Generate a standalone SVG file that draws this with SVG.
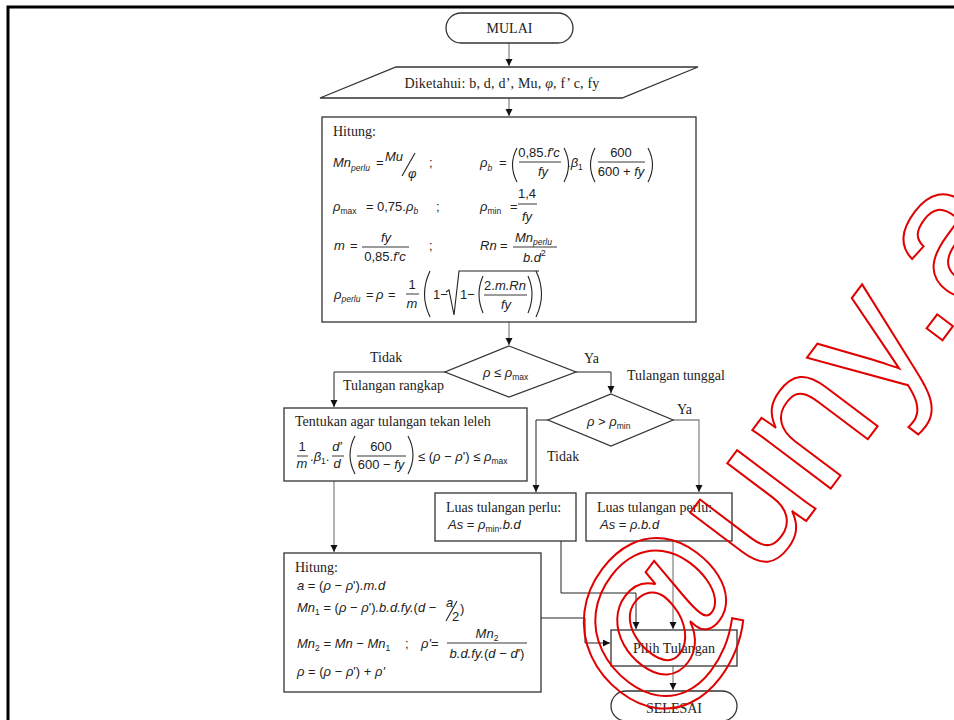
<svg xmlns="http://www.w3.org/2000/svg" width="954" height="720" viewBox="0 0 954 720">
<defs>
<style>
.t{font-family:"Liberation Serif","Times New Roman",serif;font-size:14px;fill:#222}
.m{font-family:"Liberation Sans",Arial,sans-serif;font-size:13px;font-style:italic;fill:#222}
.u{font-style:normal}
.s{font-size:8.5px}
.box{fill:#fff;stroke:#333;stroke-width:1.3}
.c{fill:none;stroke:#222;stroke-width:1}
.g{fill:none;stroke:#8a8a8a;stroke-width:1.3}
.p{fill:none;stroke:#222;stroke-width:1.1}
.bar{stroke:#222;stroke-width:0.9}
.wm{font-family:"Liberation Sans",Arial,sans-serif;font-size:185px;fill:none;stroke:#e00000;stroke-width:2}
</style>
<marker id="ah" markerUnits="userSpaceOnUse" markerWidth="8" markerHeight="8" refX="7" refY="3.5" orient="auto">
<path d="M0,0 L7,3.5 L0,7 z" fill="#111"/>
</marker>
</defs>
<rect width="954" height="720" fill="#fff"/>
<path d="M8,720 V7 H954" fill="none" stroke="#000" stroke-width="3"/>

<g id="connectors">
<path class="g" d="M509,43 V66" marker-end="url(#ah)"/>
<path class="g" d="M509,98 V116" marker-end="url(#ah)"/>
<path class="g" d="M509,322 V345" marker-end="url(#ah)"/>
<path class="c" d="M445,372 H334 V407" marker-end="url(#ah)"/>
<path class="c" d="M576,372 H611 V393" marker-end="url(#ah)"/>
<path class="g" d="M673,420 H699 V492" marker-end="url(#ah)"/>
<path class="c" d="M548,420 H536 V492" marker-end="url(#ah)"/>
<path class="g" d="M334,481 V552" marker-end="url(#ah)"/>
<path class="c" d="M541,618 H585 V643 H610" marker-end="url(#ah)"/>
<path class="c" d="M561,541 V593 H636 V629" marker-end="url(#ah)"/>
<path class="g" d="M673,541 V629" marker-end="url(#ah)"/>
<path class="g" d="M673,666 V690" marker-end="url(#ah)"/>
<text class="t" x="370" y="362">Tidak</text>
<text class="t" x="343" y="390">Tulangan rangkap</text>
<text class="t" x="584" y="363">Ya</text>
<text class="t" x="627" y="380">Tulangan tunggal</text>
<text class="t" x="677" y="414">Ya</text>
<text class="t" x="547" y="461">Tidak</text>
</g>

<g id="mulai">
<rect class="box" x="446" y="13" width="127" height="30" rx="15"/>
<text class="t" x="509.5" y="33" text-anchor="middle">MULAI</text>
</g>

<g id="diketahui">
<path class="box" d="M396,67 H698 L622,98 H320 Z"/>
<text class="t" x="502" y="88" text-anchor="middle" letter-spacing="0.2">Diketahui: b, d, d’, Mu, <tspan font-style="italic">φ</tspan>,  f’ c, fy</text>
</g>

<g id="hitung1">
<rect class="box" x="322" y="117" width="374" height="205"/>
<text class="t" x="333" y="136">Hitung:</text>
<text class="m" x="333" y="167">Mn<tspan class="s" dy="4">perlu</tspan></text>
<text class="m u" x="376" y="167">=</text>
<text class="m" x="385" y="161">Mu</text>
<path class="p" d="M402,176 L415,153" stroke-width="1.4"/>
<text class="m" x="408" y="178">φ</text>
<text class="m u" x="429" y="167">;</text>
<text class="m" x="480" y="167">ρ<tspan class="s" dy="4">b</tspan></text>
<text class="m u" x="499" y="167">=</text>
<path class="p" d="M517,148 Q508,165 517,182"/>
<text class="m" x="539" y="157" text-anchor="middle"><tspan class="u">0,85.</tspan>f'c</text>
<line class="bar" x1="519" y1="162" x2="561" y2="162"/>
<text class="m" x="543" y="176" text-anchor="middle">fy</text>
<path class="p" d="M564,148 Q573,165 564,182"/>
<text class="m" x="567" y="167"><tspan class="u">.</tspan>β<tspan class="s u" dy="3">1</tspan></text>
<path class="p" d="M595,148 Q586,165 595,182"/>
<text class="m u" x="621" y="157" text-anchor="middle">600</text>
<line class="bar" x1="598" y1="162" x2="645" y2="162"/>
<text class="m" x="621" y="176" text-anchor="middle"><tspan class="u">600 + </tspan>fy</text>
<path class="p" d="M648,148 Q657,165 648,182"/>
<text class="m" x="333" y="211">ρ<tspan class="s u" dy="3" font-size="9">max</tspan></text>
<text class="m u" x="366" y="211">=</text>
<text class="m u" x="377" y="211">0,75.<tspan font-style="italic">ρ</tspan><tspan class="s" font-style="italic" dy="3">b</tspan></text>
<text class="m u" x="436" y="211">;</text>
<text class="m" x="480" y="211">ρ<tspan class="s u" dy="3" font-size="9">min</tspan></text>
<text class="m u" x="510" y="211">=</text>
<text class="m u" x="527" y="198" text-anchor="middle">1,4</text>
<line class="bar" x1="518" y1="204" x2="537" y2="204"/>
<text class="m" x="527" y="221" text-anchor="middle">fy</text>
<text class="m" x="334" y="250">m</text>
<text class="m u" x="350" y="250">=</text>
<text class="m" x="386" y="242" text-anchor="middle">fy</text>
<line class="bar" x1="362" y1="247" x2="409" y2="247"/>
<text class="m" x="385" y="261" text-anchor="middle"><tspan class="u">0,85.</tspan>f'c</text>
<text class="m u" x="429" y="250">;</text>
<text class="m" x="480" y="250">Rn</text>
<text class="m u" x="500" y="250">=</text>
<text class="m" x="515" y="242">Mn<tspan class="s" dy="3">perlu</tspan></text>
<line class="bar" x1="513" y1="247" x2="557" y2="247"/>
<text class="m" x="523" y="262">b.d<tspan class="s u" dy="-6">2</tspan></text>
<text class="m" x="334" y="299">ρ<tspan class="s" dy="3">perlu</tspan></text>
<text class="m u" x="366" y="299">=</text>
<text class="m" x="376" y="299">ρ</text>
<text class="m u" x="388" y="299">=</text>
<text class="m u" x="412" y="289" text-anchor="middle">1</text>
<line class="bar" x1="406" y1="294" x2="419" y2="294"/>
<text class="m" x="412" y="308" text-anchor="middle">m</text>
<path class="p" d="M430,271 Q419,294 430,317"/>
<text class="m u" x="433" y="299">1−</text>
<path class="p" d="M446,292 L449,290 L454,315 L459,271 H539"/>
<text class="m u" x="460" y="299">1−</text>
<path class="p" d="M483,276 Q475,294 483,313"/>
<text class="m" x="505" y="290" text-anchor="middle"><tspan class="u">2.</tspan>m.Rn</text>
<line class="bar" x1="484" y1="295" x2="527" y2="295"/>
<text class="m" x="506" y="309" text-anchor="middle">fy</text>
<path class="p" d="M528,276 Q536,294 528,313"/>
<path class="p" d="M536,271 Q547,294 536,317"/>
</g>

<g id="decision1">
<path class="box" d="M509,346 L576,372 L509,397 L445,372 Z" stroke-width="1"/>
<text class="m" x="483" y="377">ρ <tspan class="u">≤</tspan> ρ<tspan class="s u" dy="3" font-size="9">max</tspan></text>
</g>

<g id="decision2">
<path class="box" d="M611,394 L673,420 L611,446 L548,420 Z" stroke-width="1"/>
<text class="m" x="587" y="426">ρ <tspan class="u">&gt;</tspan> ρ<tspan class="s u" dy="3" font-size="9">min</tspan></text>
</g>

<g id="tentukan">
<rect class="box" x="284" y="408" width="243" height="73"/>
<text class="t" x="295" y="426">Tentukan agar tulangan tekan leleh</text>
<text class="m u" x="302" y="451" text-anchor="middle">1</text>
<line class="bar" x1="297" y1="456" x2="308" y2="456"/>
<text class="m" x="302" y="468" text-anchor="middle">m</text>
<text class="m" x="310" y="461"><tspan class="u">.</tspan>β<tspan class="s u" dy="3">1</tspan><tspan class="u" dy="-3">.</tspan></text>
<text class="m" x="337" y="451" text-anchor="middle">d'</text>
<line class="bar" x1="332" y1="456" x2="344" y2="456"/>
<text class="m" x="337" y="468" text-anchor="middle">d</text>
<path class="p" d="M355,436 Q345,455 355,474"/>
<text class="m u" x="381" y="451" text-anchor="middle">600</text>
<line class="bar" x1="357" y1="456" x2="406" y2="456"/>
<text class="m" x="381" y="469" text-anchor="middle"><tspan class="u">600 − </tspan>fy</text>
<path class="p" d="M408,436 Q418,455 408,474"/>
<text class="m" x="418" y="461"><tspan class="u">≤ (</tspan>ρ <tspan class="u">−</tspan> ρ<tspan class="u">') ≤ </tspan>ρ<tspan class="s u" dy="3" font-size="9">max</tspan></text>
</g>

<g id="luas1">
<rect class="box" x="435" y="493" width="141" height="48"/>
<text class="t" x="446" y="512">Luas tulangan perlu:</text>
<text class="m" x="448" y="529">As <tspan class="u">=</tspan> ρ<tspan class="s u" dy="3" font-size="9">min</tspan><tspan dy="-3">.b.d</tspan></text>
</g>

<g id="luas2">
<rect class="box" x="586" y="493" width="146" height="48"/>
<text class="t" x="597" y="512">Luas tulangan perlu:</text>
<text class="m" x="600" y="529">As <tspan class="u">=</tspan> ρ.b.d</text>
</g>

<g id="hitung2">
<rect class="box" x="284" y="553" width="257" height="139"/>
<text class="t" x="295" y="572">Hitung:</text>
<text class="m" x="297" y="590">a <tspan class="u">= (</tspan>ρ <tspan class="u">−</tspan> ρ<tspan class="u">')</tspan>.m.d</text>
<text class="m" x="297" y="612">Mn<tspan class="s u" dy="3">1</tspan><tspan dy="-3" class="u"> = (</tspan>ρ <tspan class="u">−</tspan> ρ<tspan class="u">')</tspan>.b.d.fy.<tspan class="u">(</tspan>d <tspan class="u">−</tspan></text>
<text class="m" x="446" y="607" font-size="11">a</text>
<path class="p" d="M446,621 L457,601" stroke-width="1.2"/>
<text class="m u" x="452" y="621" font-size="11">2</text>
<text class="m u" x="460" y="613" font-size="15">)</text>
<text class="m" x="297" y="648">Mn<tspan class="s u" dy="3">2</tspan><tspan dy="-3" class="u"> = </tspan>Mn <tspan class="u">−</tspan> Mn<tspan class="s u" dy="3">1</tspan></text>
<text class="m u" x="405" y="648">;</text>
<text class="m" x="421" y="648">ρ'<tspan class="u">=</tspan></text>
<text class="m" x="487" y="638" text-anchor="middle">Mn<tspan class="s u" dy="3">2</tspan></text>
<line class="bar" x1="447" y1="643" x2="527" y2="643"/>
<text class="m" x="487" y="658" text-anchor="middle">b.d.fy.<tspan class="u">(</tspan>d <tspan class="u">−</tspan> d<tspan class="u">')</tspan></text>
<text class="m" x="297" y="676">ρ <tspan class="u">= (</tspan>ρ <tspan class="u">−</tspan> ρ<tspan class="u">') + </tspan>ρ'</text>
</g>

<g id="pilih">
<rect class="box" x="611" y="630" width="126" height="36"/>
<text class="t" x="674" y="653" text-anchor="middle">Pilih Tulangan</text>
</g>

<g id="selesai">
<rect class="box" x="611" y="691" width="126" height="30" rx="15"/>
<text class="t" x="674" y="713" text-anchor="middle">SELESAI</text>
</g>

<text class="wm" transform="translate(648,731) rotate(-53)">@uny.a</text>
</svg>
